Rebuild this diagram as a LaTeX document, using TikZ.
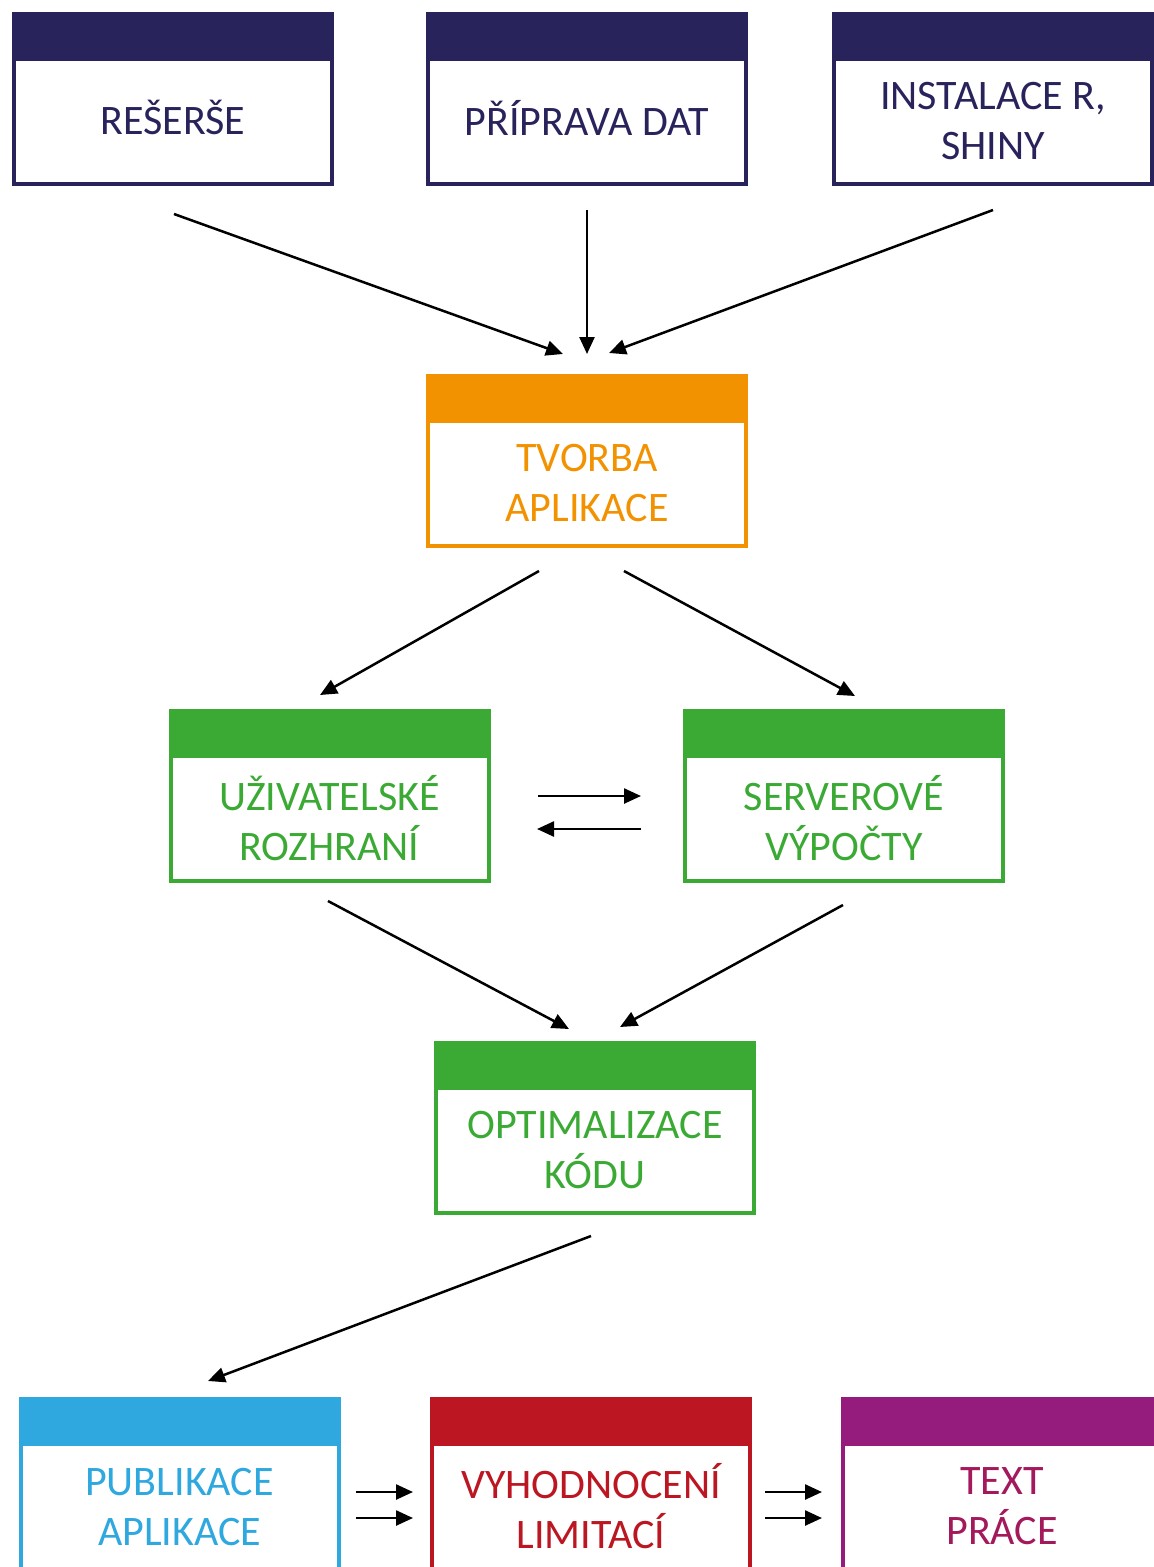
\documentclass[tikz,border=0pt]{standalone}
\usepackage{fontspec}
\setmainfont{Carlito}
\usetikzlibrary{arrows.meta,calc}
\definecolor{cnavy}{HTML}{29235C}
\definecolor{corange}{HTML}{F39200}
\definecolor{cgreen}{HTML}{3BAA35}
\definecolor{cblue}{HTML}{2FA8E0}
\definecolor{cred}{HTML}{BC1622}
\definecolor{cpurple}{HTML}{951B7C}
\definecolor{cpurpletext}{HTML}{A3195B}
\newcommand{\upline}[1]{\raisebox{4pt}[\height][\depth]{#1}}
\begin{document}
\begin{tikzpicture}[x=1pt,y=-1pt,
  body/.style={draw=#1, text=#1, line width=4pt, fill=white,
    minimum width=318pt, minimum height=125pt, inner sep=0pt, outer sep=0pt,
    align=center, font=\fontsize{42}{50}\selectfont},
  arr/.style={line width=2.5pt, -{Triangle[length=17pt,width=15pt]}}]
\useasboundingbox (0,0) rectangle (1154,1567);
\clip (0,0) rectangle (1154,1567);

% boxes (body part, header drawn afterwards)
\node[body=cnavy] (reserse) at (173,121.5) {\upline{REŠERŠE}};
\node[body=cnavy] (priprava) at (587,121.5) {\upline{PŘÍPRAVA DAT}};
\node[body=cnavy] (instalace) at (993,121.5) {INSTALACE R,\\SHINY};
\node[body=corange] (tvorba) at (587,483.5) {TVORBA\\APLIKACE};
\node[body=cgreen] (ui) at (329.5,818.5) {UŽIVATELSKÉ\\ROZHRANÍ};
\node[body=cgreen] (server) at (844,818.5) {SERVEROVÉ\\VÝPOČTY};
\node[body=cgreen] (optim) at (595,1150.5) {OPTIMALIZACE\\KÓDU};
\node[body=cblue] (publ) at (179.5,1506.5) {PUBLIKACE\\APLIKACE};
\node[body=cred] (vyhod) at (591,1506.5) {VYHODNOCENÍ\\LIMITACÍ};
\node[body=cpurple, text=cpurpletext] (textprace) at (1002,1506.5) {TEXT\\PRÁCE};

\foreach \n/\c in {reserse/cnavy, priprava/cnavy, instalace/cnavy, tvorba/corange,
  ui/cgreen, server/cgreen, optim/cgreen, publ/cblue, vyhod/cred, textprace/cpurple}
  \draw[draw=\c, fill=\c, line width=4pt] (\n.north west) rectangle ([yshift=45pt]\n.north east);

% arrow end points
\coordinate (a1s) at (174,214);  \coordinate (a1e) at (563,354);
\coordinate (a2s) at (587,210);  \coordinate (a2e) at (587,354);
\coordinate (a3s) at (993,210);  \coordinate (a3e) at (609,353);
\coordinate (a4s) at (539,571);  \coordinate (a4e) at (320,695);
\coordinate (a5s) at (624,571);  \coordinate (a5e) at (855,696);
\coordinate (a6s) at (538,796);  \coordinate (a6e) at (641,796);
\coordinate (a7s) at (641,829);  \coordinate (a7e) at (537,829);
\coordinate (a8s) at (328,901);  \coordinate (a8e) at (569,1029);
\coordinate (a9s) at (843,905);  \coordinate (a9e) at (620,1027);
\coordinate (a10s) at (591,1236); \coordinate (a10e) at (208,1381);
\coordinate (a11s) at (356,1492); \coordinate (a11e) at (413,1492);
\coordinate (a12s) at (356,1518); \coordinate (a12e) at (413,1518);
\coordinate (a13s) at (765,1492); \coordinate (a13e) at (822,1492);
\coordinate (a14s) at (765,1518); \coordinate (a14e) at (822,1518);

\foreach \i in {1,...,14}
  \draw[arr] (a\i s) -- (a\i e);
\end{tikzpicture}
\end{document}
